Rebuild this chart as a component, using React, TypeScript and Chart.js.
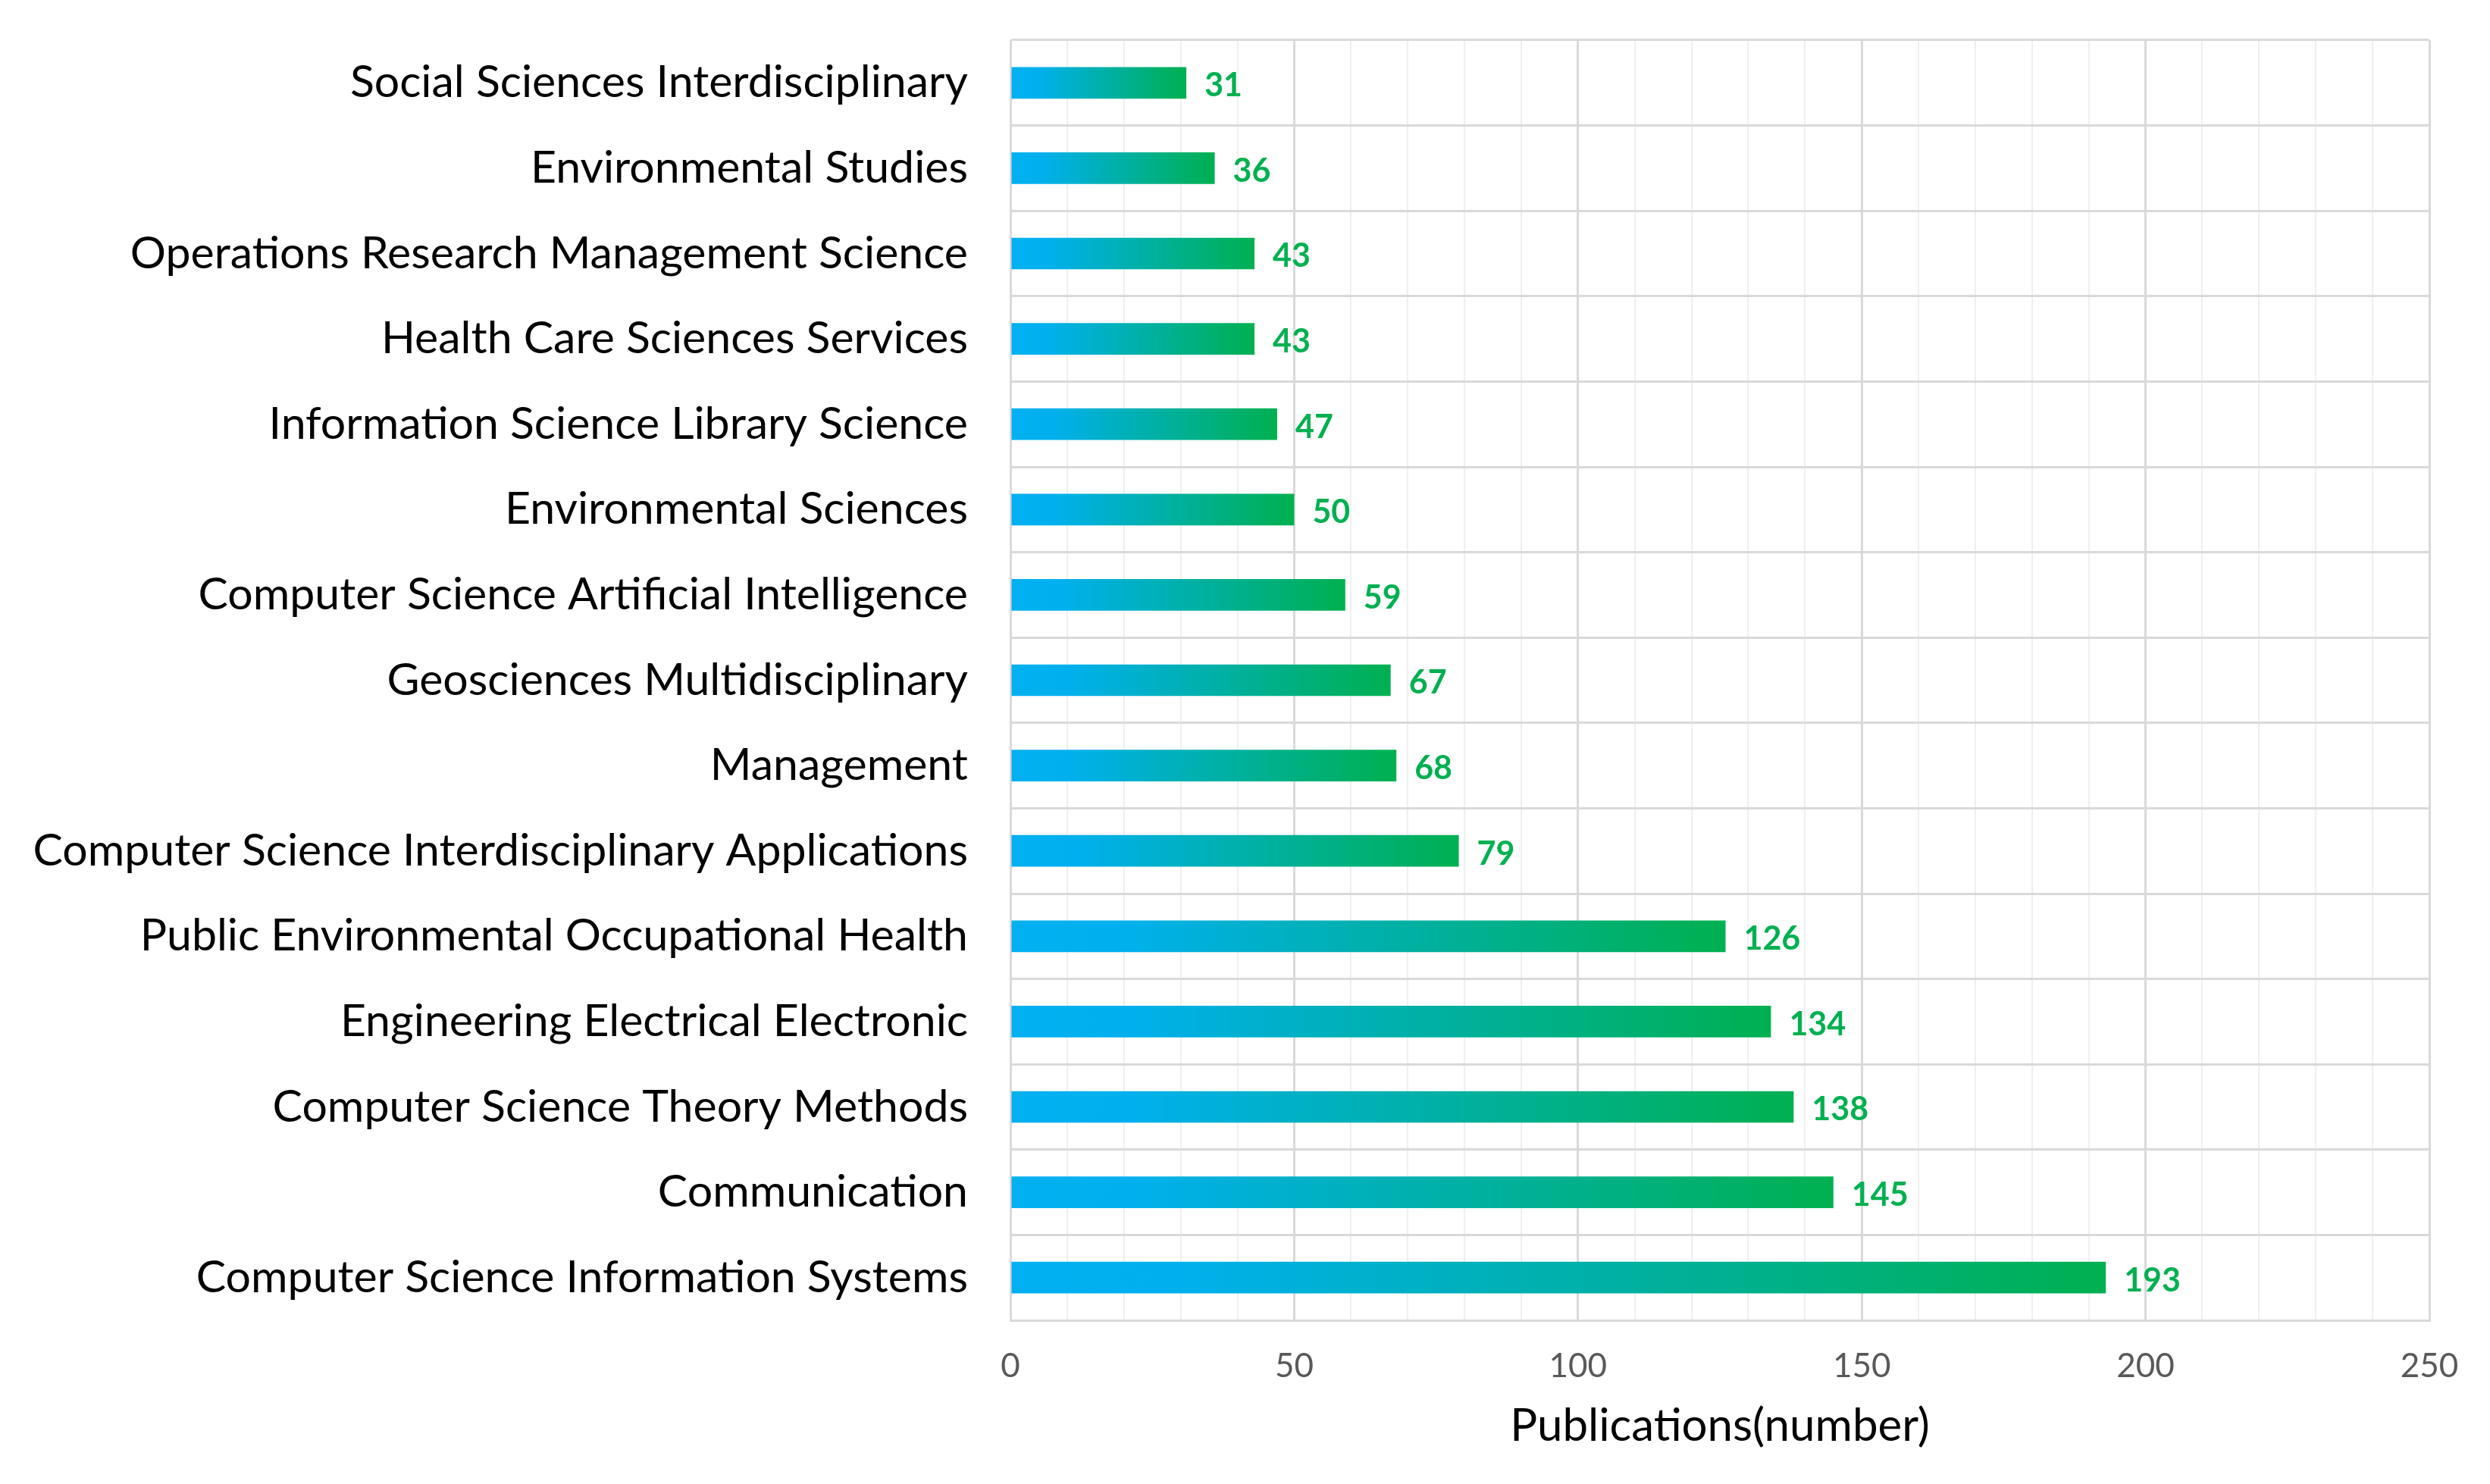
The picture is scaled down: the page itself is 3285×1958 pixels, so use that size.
import React, { useEffect, useRef } from 'react';
import { Chart, registerables } from 'chart.js';

Chart.register(...registerables);

const categories = [
  'Social Sciences Interdisciplinary',
  'Environmental Studies',
  'Operations Research Management Science',
  'Health Care Sciences Services',
  'Information Science Library Science',
  'Environmental Sciences',
  'Computer Science Artificial Intelligence',
  'Geosciences Multidisciplinary',
  'Management',
  'Computer Science Interdisciplinary Applications',
  'Public Environmental Occupational Health',
  'Engineering Electrical Electronic',
  'Computer Science Theory Methods',
  'Communication',
  'Computer Science Information Systems',
];
const publications = [31, 36, 43, 43, 47, 50, 59, 67, 68, 79, 126, 134, 138, 145, 193];
const tickLabels = [0, 50, 100, 150, 200, 250];
const axisTitle = 'Publications(number)';

const FONT = 'Lato, "Open Sans", sans-serif';

export default function App() {
  const ref = useRef<HTMLCanvasElement>(null);

  useEffect(() => {
    document.body.style.margin = '0';
    const canvas = ref.current!;

    const valueLabels = {
      id: 'valueLabels',
      afterDatasetsDraw(chart: any) {
        const ctx = chart.ctx;
        const meta = chart.getDatasetMeta(0);
        ctx.save();
        ctx.font = `bold 43px ${FONT}`;
        ctx.fillStyle = '#00B050';
        ctx.textAlign = 'left';
        ctx.textBaseline = 'middle';
        meta.data.forEach((bar: any, i: number) => {
          ctx.fillText(String(publications[i]), bar.x + 24, bar.y + 4);
        });
        ctx.restore();
      },
    };

    const chart = new Chart(canvas, {
      type: 'bar',
      data: {
        labels: categories,
        datasets: [
          {
            data: publications,
            categoryPercentage: 1,
            barPercentage: 0.37,
            backgroundColor: (c: any) => {
              const ch = c.chart;
              const xs = ch.scales?.x;
              if (!ch.chartArea || !xs || c.type !== 'data') return '#00B0F0';
              const x0 = xs.getPixelForValue(0);
              const x1 = xs.getPixelForValue(c.raw as number);
              const g = ch.ctx.createLinearGradient(x0, 0, x1, 0);
              g.addColorStop(0, '#00B0F0');
              g.addColorStop(0.15, '#00B0EE');
              g.addColorStop(1, '#00B050');
              return g;
            },
            borderWidth: 0,
          },
        ],
      },
      options: {
        indexAxis: 'y',
        responsive: false,
        devicePixelRatio: 1,
        animation: false,
        layout: { padding: { left: 0, right: 80, top: 53, bottom: 0 } },
        plugins: {
          legend: { display: false },
          tooltip: { enabled: false },
        },
        scales: {
          x: {
            min: 0,
            max: 250,
            afterFit: (s: any) => {
              s.height = 1958 - 1742;
            },
            ticks: {
              stepSize: 10,
              autoSkip: false,
              maxRotation: 0,
              padding: 34,
              color: '#595959',
              font: { family: FONT, size: 44 },
              callback: (v: any) => (tickLabels.includes(Number(v)) ? String(v) : ''),
            },
            grid: {
              drawTicks: false,
              color: (c: any) => (c.tick && c.tick.value % 50 === 0 ? '#D9D9D9' : '#EFEFEF'),
              lineWidth: (c: any) => (c.tick && c.tick.value % 50 === 0 ? 3 : 2),
            },
            border: { display: true, color: '#D9D9D9', width: 3 },
            title: {
              display: true,
              text: axisTitle,
              color: '#000000',
              font: { family: FONT, size: 60 },
              padding: { top: 0, bottom: 40 },
            },
          },
          y: {
            afterFit: (s: any) => {
              s.width = 1333;
              s.paddingTop = 0;
              s.paddingBottom = 0;
            },
            ticks: {
              padding: 56,
              color: '#000000',
              font: { family: FONT, size: 59 },
              autoSkip: false,
            },
            grid: {
              drawTicks: false,
              offset: true,
              color: '#D9D9D9',
              lineWidth: 3,
            },
            border: { display: true, color: '#D9D9D9', width: 3 },
          },
        },
      },
      plugins: [valueLabels],
    });

    return () => chart.destroy();
  }, []);

  return (
    <div style={{ position: 'fixed', left: 0, top: 0, width: 3285, height: 1958, background: '#fff' }}>
      <canvas ref={ref} width={3285} height={1958} style={{ width: 3285, height: 1958, display: 'block' }} />
    </div>
  );
}
